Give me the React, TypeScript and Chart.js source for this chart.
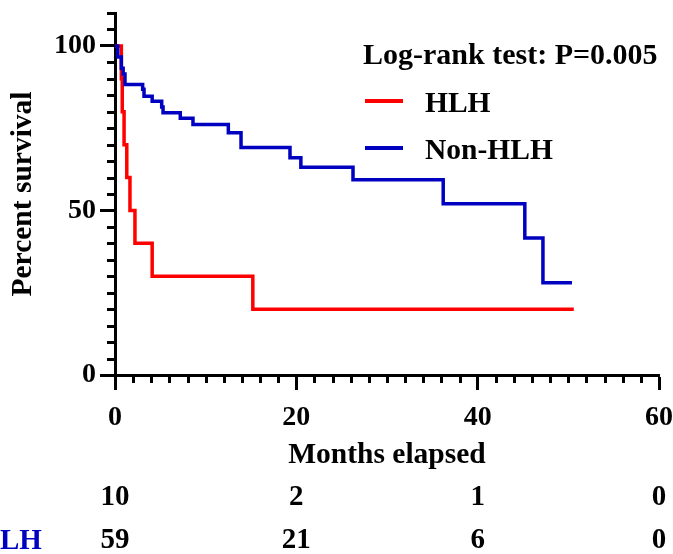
import React, { useEffect, useRef } from 'react';
import { Chart, registerables } from 'chart.js';

Chart.register(...registerables);

// ---- data ----
const hlhMonths = [0, 0.7, 0.8, 1.0, 1.3, 1.65, 2.2, 4.1, 15.2, 50.6];
const hlhSurvival = [100, 90, 80, 70, 60, 50, 40, 30, 20, 20];

const nonHlhMonths = [0, 0.3, 0.7, 0.9, 1.1, 3.05, 3.2, 4.1, 5.15, 5.3, 7.2, 8.6, 12.5, 13.9, 19.3, 20.5, 26.25, 36.2, 45.2, 47.2, 50.4];
const nonHlhSurvival = [100, 96.6, 93.2, 91.5, 88.3, 86.8, 84.7, 83.2, 81.4, 79.7, 78.0, 76.1, 73.6, 69.1, 66.0, 63.1, 59.3, 52.0, 41.6, 28.0, 28.0];

const seriesLabels = ['HLH', 'Non-HLH'];
const seriesColors = ['#FF0000', '#0000C0'];

const xMajorTicks = [0, 20, 40, 60];
const yMajorTicks = [0, 50, 100];

const atRiskHLH = [10, 2, 1, 0];
const atRiskNonHLH = [59, 21, 6, 0];
const atRiskRowLabel = 'LH';

const testLabel = 'Log-rank test: P=0.005';
const xTitle = 'Months elapsed';
const yTitle = 'Percent survival';

const FAMILY = '"Liberation Serif", "Times New Roman", Times, serif';

const overlayPlugin = {
  id: 'overlay',
  afterDraw(chart: any) {
    const ctx: CanvasRenderingContext2D = chart.ctx;
    const xs = chart.scales.x;
    const ys = chart.scales.y;
    ctx.save();

    // minor ticks
    ctx.strokeStyle = '#000';
    ctx.lineWidth = 3;
    ctx.lineCap = 'butt';
    ys.ticks.forEach((t: any) => {
      if (yMajorTicks.includes(t.value)) return;
      const py = Math.round(ys.getPixelForValue(t.value)) + 0.5;
      ctx.beginPath();
      ctx.moveTo(xs.left - 8, py);
      ctx.lineTo(xs.left, py);
      ctx.stroke();
    });
    xs.ticks.forEach((t: any) => {
      if (xMajorTicks.includes(t.value)) return;
      const px = Math.round(xs.getPixelForValue(t.value)) + 0.5;
      ctx.beginPath();
      ctx.moveTo(px, ys.bottom);
      ctx.lineTo(px, ys.bottom + 8);
      ctx.stroke();
    });

    // legend
    ctx.textBaseline = 'alphabetic';
    ctx.textAlign = 'left';
    ctx.fillStyle = '#000';
    ctx.font = `bold 30px ${FAMILY}`;
    ctx.fillText(testLabel, 363, 64);

    ctx.font = `bold 29.5px ${FAMILY}`;
    const legendY = [101, 148];
    const textY = [112, 159];
    seriesLabels.forEach((lab, i) => {
      ctx.strokeStyle = seriesColors[i];
      ctx.lineWidth = 4;
      ctx.beginPath();
      ctx.moveTo(365, legendY[i]);
      ctx.lineTo(403, legendY[i]);
      ctx.stroke();
      ctx.fillStyle = '#000';
      ctx.fillText(lab, 425, textY[i]);
    });

    // number at risk table
    ctx.font = `bold 29px ${FAMILY}`;
    ctx.textAlign = 'center';
    ctx.fillStyle = '#000';
    xMajorTicks.forEach((m, i) => {
      const px = xs.getPixelForValue(m);
      ctx.fillText(String(atRiskHLH[i]), px, 505);
      ctx.fillText(String(atRiskNonHLH[i]), px, 548);
    });
    ctx.textAlign = 'left';
    ctx.fillStyle = seriesColors[1];
    ctx.fillText(atRiskRowLabel, 0, 549);

    ctx.restore();
  },
};

export default function App() {
  const ref = useRef<HTMLCanvasElement | null>(null);

  useEffect(() => {
    if (!ref.current) return;
    const toPts = (xs: number[], ys: number[]) => xs.map((x, i) => ({ x, y: ys[i] }));
    const chart = new Chart(ref.current, {
      type: 'line',
      data: {
        datasets: [
          {
            label: seriesLabels[1],
            data: toPts(nonHlhMonths, nonHlhSurvival),
            borderColor: seriesColors[1],
            borderWidth: 3.5,
            stepped: true,
            pointRadius: 0,
            fill: false,
            borderJoinStyle: 'miter',
            borderCapStyle: 'butt',
          },
          {
            label: seriesLabels[0],
            data: toPts(hlhMonths, hlhSurvival),
            borderColor: seriesColors[0],
            borderWidth: 3.5,
            stepped: true,
            pointRadius: 0,
            fill: false,
            borderJoinStyle: 'miter',
            borderCapStyle: 'butt',
          },
        ],
      },
      options: {
        responsive: false,
        animation: false,
        devicePixelRatio: 1,
        layout: { padding: { top: 13, right: 14, bottom: 79, left: 0 } },
        plugins: { legend: { display: false }, tooltip: { enabled: false } },
        scales: {
          x: {
            type: 'linear',
            min: 0,
            max: 60,
            ticks: {
              stepSize: 2,
              autoSkip: false,
              maxRotation: 0,
              minRotation: 0,
              padding: 11,
              color: '#000',
              font: { size: 28, weight: 'bold', family: FAMILY },
              callback: (v: any) => (xMajorTicks.includes(Number(v)) ? String(v) : ''),
            },
            grid: {
              display: true,
              drawOnChartArea: false,
              drawTicks: true,
              tickLength: 15,
              tickWidth: 3,
              tickColor: (c: any) => (c.tick && xMajorTicks.includes(c.tick.value) ? '#000' : 'rgba(0,0,0,0)'),
            },
            border: { display: true, color: '#000', width: 3 },
            title: {
              display: true,
              text: xTitle,
              color: '#000',
              font: { size: 29.5, weight: 'bold', family: FAMILY },
              padding: { top: 0, bottom: 2 },
            },
            afterFit: (s: any) => {
              s.height = 100;
              s.paddingLeft = 0;
              s.paddingRight = 0;
            },
          },
          y: {
            type: 'linear',
            min: 0,
            max: 110,
            ticks: {
              stepSize: 5,
              autoSkip: false,
              padding: 4,
              color: '#000',
              font: { size: 28, weight: 'bold', family: FAMILY },
              callback: (v: any) => (yMajorTicks.includes(Number(v)) ? String(v) : ''),
            },
            grid: {
              display: true,
              drawOnChartArea: false,
              drawTicks: true,
              tickLength: 15,
              tickWidth: 3,
              tickColor: (c: any) => (c.tick && yMajorTicks.includes(c.tick.value) ? '#000' : 'rgba(0,0,0,0)'),
            },
            border: { display: true, color: '#000', width: 3 },
            title: {
              display: true,
              text: yTitle,
              color: '#000',
              font: { size: 29.5, weight: 'bold', family: FAMILY },
              padding: { top: 6, bottom: 0 },
            },
            afterFit: (s: any) => {
              s.width = 115;
              s.paddingTop = 0;
              s.paddingBottom = 0;
            },
          },
        },
      },
      plugins: [overlayPlugin],
    } as any);
    return () => chart.destroy();
  }, []);

  return (
    <div style={{ position: 'fixed', left: 0, top: 0, width: 673, height: 554, background: '#fff' }}>
      <canvas ref={ref} width={673} height={554} style={{ display: 'block' }} />
    </div>
  );
}
